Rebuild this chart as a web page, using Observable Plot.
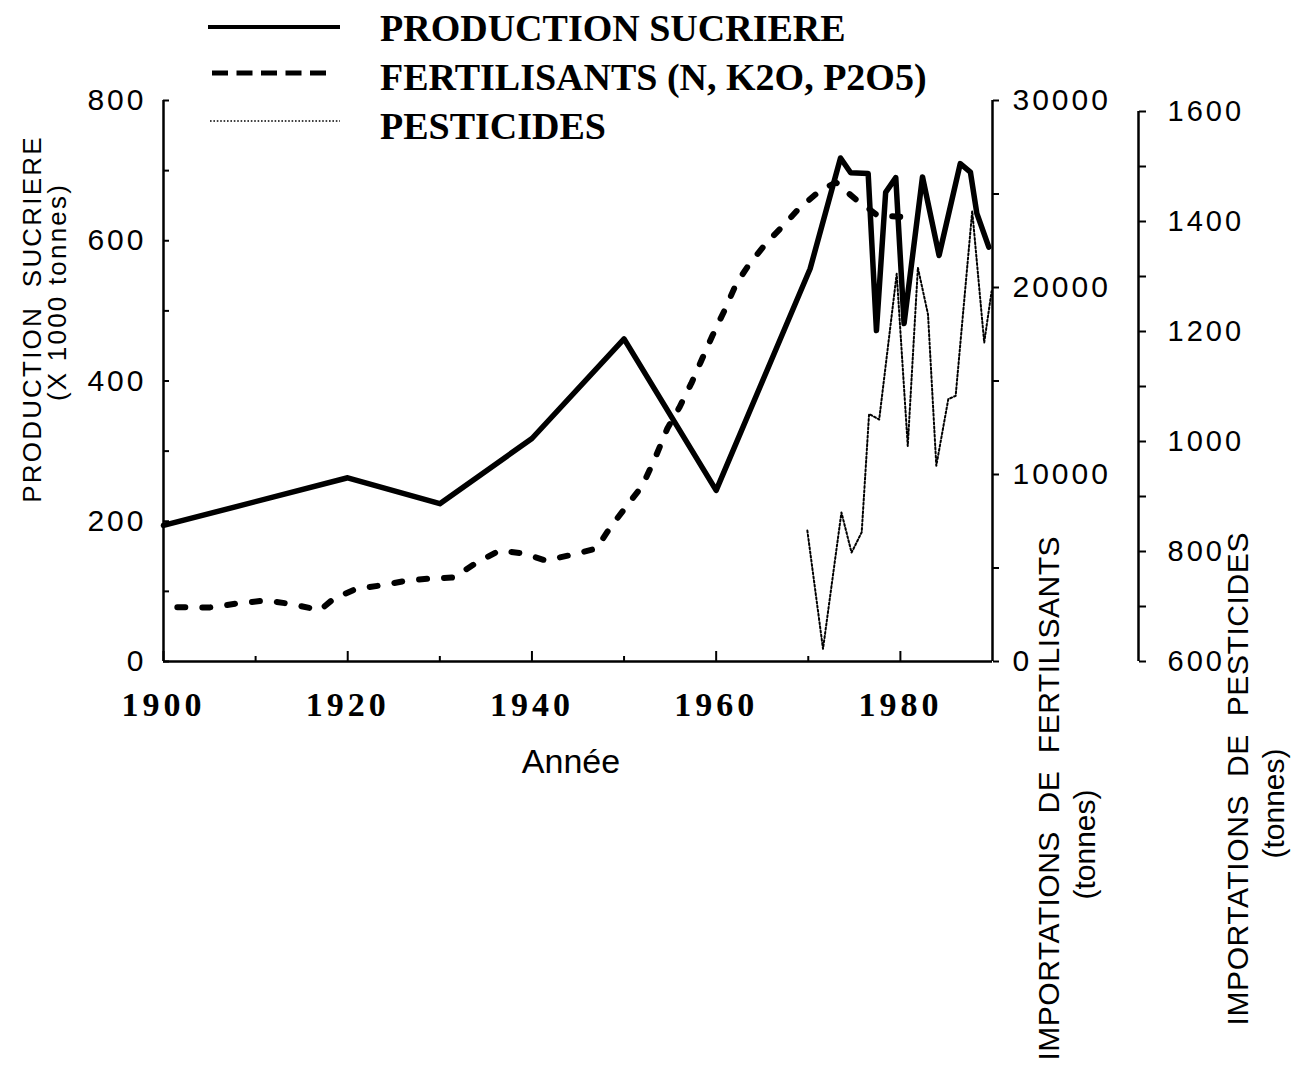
<!DOCTYPE html>
<html>
<head>
<meta charset="utf-8">
<script src="https://cdn.jsdelivr.net/npm/d3@7"></script>
<script src="https://cdn.jsdelivr.net/npm/@observablehq/plot@0.6"></script>
<style>
  body { margin: 0; background: #fff; }
  #chart { position: relative; width: 1303px; height: 1069px; overflow: hidden; background: #fff; }
  #chart > svg { position: absolute; left: 0; top: 0; }
  g[aria-label="y-axis tick label"] text { letter-spacing: 3px; }
  g[aria-label="x-axis tick label"] text { letter-spacing: 4px; }
  .leg { position: absolute; left: 380px; font-family: "Liberation Serif", "Times New Roman", serif;
         font-weight: bold; font-size: 38px; line-height: 38px; color: #000; white-space: nowrap; }
  #legendLines { position: absolute; left: 0; top: 0; }
</style>
</head>
<body>
<div id="chart">
  <svg id="legendLines" width="360" height="150">
    <line x1="208" y1="27" x2="340" y2="27" stroke="#000" stroke-width="4"/>
    <line x1="212" y1="73" x2="326" y2="73" stroke="#000" stroke-width="5" stroke-dasharray="16,8.5"/>
    <line x1="210" y1="121" x2="340" y2="121" stroke="#000" stroke-width="1.6" stroke-dasharray="1.6,1.8"/>
  </svg>
  <div class="leg" style="top:9px">PRODUCTION SUCRIERE</div>
  <div class="leg" style="top:58px">FERTILISANTS (N, K2O, P2O5)</div>
  <div class="leg" style="top:107px">PESTICIDES</div>
</div>
<script>
// ---------- data ----------
const prodYears  = [1900, 1920, 1930, 1940, 1950, 1960, 1970.2, 1973.5, 1974.6, 1976.5, 1977.4, 1978.4, 1979.5, 1980.4, 1982.4, 1984.2, 1986.5, 1987.6, 1988.3, 1989.6];
const prodValues = [194, 262, 225, 318, 460, 244, 560, 718, 697, 696, 472, 669, 690, 482, 691, 579, 710, 698, 639, 591];

const fertYears  = [1901.5, 1905, 1908, 1911, 1913.5, 1917, 1918.5, 1921, 1923.5, 1926.5, 1929, 1931.5, 1934, 1936.5, 1939, 1941.5, 1944, 1947, 1948.5, 1950.5, 1952, 1953.4, 1954.7, 1956, 1957.3, 1958.3, 1959.6, 1960.9, 1962.2, 1963.5, 1965.4, 1967.3, 1969, 1971.3, 1973, 1975.3, 1976.4, 1977.5, 1981];
const fertValues = [2900, 2890, 3100, 3260, 3100, 2750, 3370, 3900, 4060, 4330, 4440, 4490, 5290, 5940, 5780, 5400, 5670, 6040, 7170, 8450, 9410, 10910, 12460, 13580, 14870, 15990, 17430, 18770, 20220, 21180, 22350, 23320, 24230, 25190, 25620, 24650, 24280, 23850, 23750];

const pestYears  = [1969.9, 1971.6, 1973.6, 1974.7, 1975.8, 1976.6, 1977.7, 1979.6, 1980.8, 1981.9, 1983, 1983.9, 1985.2, 1986, 1987.8, 1989.1, 1989.9];
const pestValues = [838, 623, 871, 798, 835, 1050, 1040, 1305, 992, 1316, 1231, 956, 1077, 1083, 1419, 1180, 1273];

const yearTickLabels = [1900, 1920, 1940, 1960, 1980];
const yearMinorTicks = [1910, 1930, 1950, 1970];
const prodTicks = [0, 100, 200, 300, 400, 500, 600, 700, 800];
const fertTicks = [0, 5000, 10000, 15000, 20000, 25000, 30000];
const pestTicks = [600, 700, 800, 900, 1000, 1100, 1200, 1300, 1400, 1500, 1600];

const prodData = prodYears.map((year, i) => ({year, value: prodValues[i]}));
const fertData = fertYears.map((year, i) => ({year, value: fertValues[i]}));
const pestData = pestYears.map((year, i) => ({year, value: pestValues[i]}));

// ---------- layout ----------
const sans = "'Liberation Sans', Arial, sans-serif";
const serif = "'Liberation Serif', 'Times New Roman', serif";
const common = {
  width: 1303, height: 1069,
  marginLeft: 163, marginRight: 311, marginTop: 100, marginBottom: 408,
  style: {background: "transparent", overflow: "visible", fontFamily: sans, color: "#000"}
};
const xScale = {domain: [1900, 1990], axis: null};

const p1 = Plot.plot({
  ...common,
  x: xScale,
  y: {domain: [0, 800], axis: null},
  marks: [
    Plot.ruleX([1900], {strokeWidth: 2.5}),
    Plot.ruleY([0], {strokeWidth: 2.5}),
    Plot.axisX(yearMinorTicks, {tickSize: -5, tickFormat: () => "", label: null, strokeWidth: 2}),
    Plot.axisX(yearTickLabels, {tickSize: -10, tickPadding: 40, tickFormat: d => String(d), label: null,
      fontSize: 34, fontFamily: serif, fontWeight: "bold", strokeWidth: 2}),
    Plot.axisY(prodTicks, {tickSize: -6, tickPadding: 23, tickFormat: d => d % 200 === 0 ? String(d) : "",
      label: null, fontSize: 30, fontFamily: sans, strokeWidth: 2}),
    Plot.line(prodData, {x: "year", y: "value", strokeWidth: 5.5, strokeLinejoin: "round", strokeLinecap: "round"}),
    Plot.text(["PRODUCTION  SUCRIERE"], {text: d => d, frameAnchor: "left", dx: -131, dy: -62, rotate: -90,
      fontSize: 26, fontFamily: sans, textAnchor: "middle", lineAnchor: "middle"}),
    Plot.text(["(X 1000 tonnes)"], {text: d => d, frameAnchor: "left", dx: -106, dy: -89, rotate: -90,
      fontSize: 26, fontFamily: sans, textAnchor: "middle", lineAnchor: "middle"}),
    Plot.text(["Année"], {text: d => d, frameAnchor: "bottom", dx: -7, dy: 101,
      fontSize: 34, fontFamily: sans, textAnchor: "middle", lineAnchor: "middle"})
  ]
});

const p2 = Plot.plot({
  ...common,
  x: xScale,
  y: {domain: [0, 30000], axis: null},
  marks: [
    Plot.ruleX([1990], {strokeWidth: 2.5}),
    Plot.axisY(fertTicks, {anchor: "right", tickSize: 6, tickPadding: 14,
      tickFormat: d => d % 10000 === 0 ? String(d) : "", label: null, fontSize: 30, fontFamily: sans, strokeWidth: 2}),
    Plot.line(fertData, {x: "year", y: "value", strokeWidth: 6, strokeDasharray: "8,17",
      strokeLinecap: "round", strokeLinejoin: "round"}),
    Plot.text(["IMPORTATIONS  DE  FERTILISANTS"], {text: d => d, frameAnchor: "bottom-right", dx: 57, dy: 399,
      rotate: -90, fontSize: 30, fontFamily: sans, textAnchor: "start", lineAnchor: "middle"}),
    Plot.text(["(tonnes)"], {text: d => d, frameAnchor: "bottom-right", dx: 93, dy: 183,
      rotate: -90, fontSize: 30, fontFamily: sans, textAnchor: "middle", lineAnchor: "middle"})
  ]
});

const p3 = Plot.plot({
  ...common,
  x: xScale,
  y: {domain: [600, 1600], range: [661, 111], axis: null},
  marks: [
    Plot.ruleX([1990], {y1: 600, y2: 1600, dx: 146, strokeWidth: 2.5}),
    Plot.axisY(pestTicks, {anchor: "right", dx: 146, tickSize: 7, tickPadding: 22,
      tickFormat: d => d % 200 === 0 ? String(d) : "", label: null, fontSize: 29, fontFamily: sans, strokeWidth: 2}),
    Plot.line(pestData, {x: "year", y: "value", stroke: "#000", strokeWidth: 2, strokeDasharray: "2,2.2"}),
    Plot.text(["IMPORTATIONS  DE  PESTICIDES"], {text: d => d, frameAnchor: "bottom-right", dx: 246, dy: 364,
      rotate: -90, fontSize: 30, fontFamily: sans, textAnchor: "start", lineAnchor: "middle"}),
    Plot.text(["(tonnes)"], {text: d => d, frameAnchor: "bottom-right", dx: 282, dy: 142,
      rotate: -90, fontSize: 30, fontFamily: sans, textAnchor: "middle", lineAnchor: "middle"})
  ]
});

// letter spacing for the rotated axis titles
const spacing = {"PRODUCTION  SUCRIERE": "2.2px", "(X 1000 tonnes)": "2.2px",
                 "IMPORTATIONS  DE  FERTILISANTS": "0.5px", "IMPORTATIONS  DE  PESTICIDES": "0.6px"};
for (const svg of [p1, p2, p3]) {
  d3.select(svg).selectAll("text").each(function() {
    const s = spacing[this.textContent];
    if (s) this.style.letterSpacing = s;
  });
}

const chart = document.getElementById("chart");
chart.insertBefore(p1, chart.firstChild);
chart.appendChild(p2);
chart.appendChild(p3);
</script>
</body>
</html>
